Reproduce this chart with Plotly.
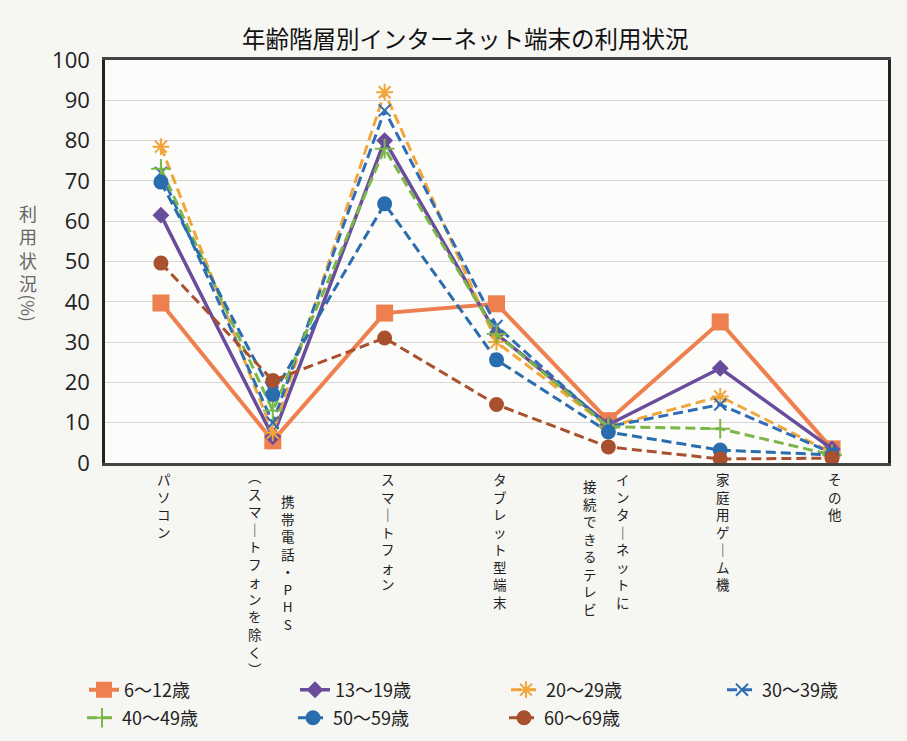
import plotly.graph_objects as go

# ---------------- data ----------------
categories = ["パソコン", "携帯電話・PHS（スマートフォンを除く）", "スマートフォン", "タブレット型端末",
              "インターネットに接続できるテレビ", "家庭用ゲーム機", "その他"]
# vertical label columns (right-to-left order)
label_columns = [["パソコン"], ["携帯電話・PHS", "（スマートフォンを除く）"], ["スマートフォン"],
                 ["タブレット型端末"], ["インターネットに", "接続できるテレビ"], ["家庭用ゲーム機"], ["その他"]]

series_names = ["6～12歳", "13～19歳", "20～29歳", "30～39歳", "40～49歳", "50～59歳", "60～69歳"]
v_6_12 = [39.7, 5.5, 37.2, 39.5, 10.5, 35.0, 3.5]
v_13_19 = [61.5, 6.5, 80.0, 32.0, 9.5, 23.5, 3.5]
v_20_29 = [78.5, 7.5, 92.0, 30.0, 9.0, 16.5, 2.5]
v_30_39 = [72.0, 10.0, 87.5, 34.0, 9.0, 14.5, 2.5]
v_40_49 = [73.0, 13.0, 78.0, 32.0, 9.0, 8.5, 2.0]
v_50_59 = [69.7, 17.0, 64.3, 25.6, 7.7, 3.2, 2.0]
v_60_69 = [49.6, 20.5, 31.0, 14.5, 4.0, 1.0, 1.2]
series_values = [v_6_12, v_13_19, v_20_29, v_30_39, v_40_49, v_50_59, v_60_69]

y_ticks = [0, 10, 20, 30, 40, 50, 60, 70, 80, 90, 100]
title_text = "年齢階層別インターネット端末の利用状況"
y_title_main = "利用状況"
y_title_unit = "(%)"

# ---------------- styles ----------------
colors = ["#EE7F4F", "#6A4C9C", "#F2A53A", "#2F6EB5", "#7AB648", "#2A6CAE", "#A9502F"]
dashes = ["solid", "solid", "10px,5px", "10px,5px", "10px,5px", "10px,5px", "10px,5px"]
widths = [4, 3.5, 3, 3, 3, 3, 3]
symbols = ["square", "diamond", "asterisk-open", "x-thin-open", "cross-thin-open", "circle", "circle"]
msizes = [17, 13, 14, 12, 14, 15, 15]
legend_ids = ["legend", "legend", "legend", "legend3", "legend2", "legend2", "legend2"]

FONT = "Noto Sans CJK JP"
W, H = 907, 741
L, R, T, B = 105, 19, 60, 278
PW, PH = W - L - R, H - T - B

fig = go.Figure()
x_idx = list(range(len(categories)))
for i, name in enumerate(series_names):
    sym = symbols[i]
    mline = dict(width=2, color=colors[i]) if sym.endswith("open") else dict(width=0)
    fig.add_trace(go.Scatter(
        x=x_idx, y=series_values[i], name=name, mode="lines+markers",
        line=dict(color=colors[i], width=widths[i], dash=dashes[i]),
        marker=dict(symbol=sym, size=msizes[i], color=colors[i], line=mline),
        legend=legend_ids[i],
    ))

# ---------------- vertical category labels ----------------
vmap = {"ー": "｜", "（": "︵", "）": "︶", "(": "︵", ")": "︶"}


def vertical(s):
    return "<br>".join(vmap.get(c, c) for c in s)


annotations = []
for ci, cols in enumerate(label_columns):
    n = len(cols)
    for k, col in enumerate(cols):
        if n == 1:
            xs, start = 3, 4
        else:
            xs = 15 if k == 0 else -18
            if ci == 1:
                start = 26 if k == 0 else 1
            else:
                start = 4 if k == 0 else 11
        annotations.append(dict(
            x=ci, xref="x", y=0, yref="paper", text=vertical(col),
            showarrow=False, xanchor="center", yanchor="top", align="center",
            xshift=xs, yshift=-start,
            font=dict(family=FONT, size=13.5, color="#222"),
        ))

# ---------------- vertical y-axis title ----------------
annotations.append(dict(
    x=0, xref="paper", y=1, yref="paper", text=vertical(y_title_main), showarrow=False,
    xanchor="center", yanchor="top", xshift=28 - L, yshift=-(198 - T),
    font=dict(family=FONT, size=18, color="#666"),
))
annotations.append(dict(
    x=0, xref="paper", y=1, yref="paper", text=y_title_unit, showarrow=False, textangle=90,
    xanchor="center", yanchor="top", xshift=28 - L, yshift=-(292 - T),
    font=dict(family=FONT, size=17, color="#666"),
))

# ---------------- title ----------------
annotations.append(dict(
    x=(465 - L) / PW, xref="paper", y=1, yref="paper", yshift=(T - 38), text=title_text,
    showarrow=False, xanchor="center", yanchor="middle",
    font=dict(family=FONT, size=23.5, color="#111"),
))

legend_common = dict(orientation="h", xanchor="left", yanchor="middle",
                     font=dict(family=FONT, size=18, color="#222"), bgcolor="rgba(0,0,0,0)",
                     traceorder="normal", itemwidth=30)

fig.update_layout(
    width=W, height=H, margin=dict(l=L, r=R, t=T, b=B, autoexpand=False),
    paper_bgcolor="#f6f6f3", plot_bgcolor="#fcfcfa",
    font=dict(family=FONT, color="#222"),
    annotations=annotations,
    showlegend=True,
    legend=dict(x=(84 - L) / PW, y=(H - B - 690) / PH, entrywidth=166, entrywidthmode="pixels",
                **legend_common),
    legend3=dict(x=(722 - L) / PW, y=(H - B - 690) / PH, **legend_common),
    legend2=dict(x=(82 - L) / PW, y=(H - B - 718) / PH, entrywidth=166, entrywidthmode="pixels",
                 **legend_common),
    xaxis=dict(range=[-0.5, len(categories) - 0.5], showticklabels=False, showgrid=False,
               zeroline=False, showline=True, linecolor="#444", linewidth=2.5, mirror=True,
               ticks=""),
    yaxis=dict(range=[0, 100], tickvals=y_ticks, ticktext=[str(t) for t in y_ticks],
               showgrid=True, gridcolor="#d6d6d6", gridwidth=1, zeroline=False,
               showline=True, linecolor="#222", linewidth=2.5, mirror=True, ticks="",
               tickfont=dict(family="Open Sans", size=22, color="#222"), ticklabelstandoff=8),
)

fig.write_html("out.html")
